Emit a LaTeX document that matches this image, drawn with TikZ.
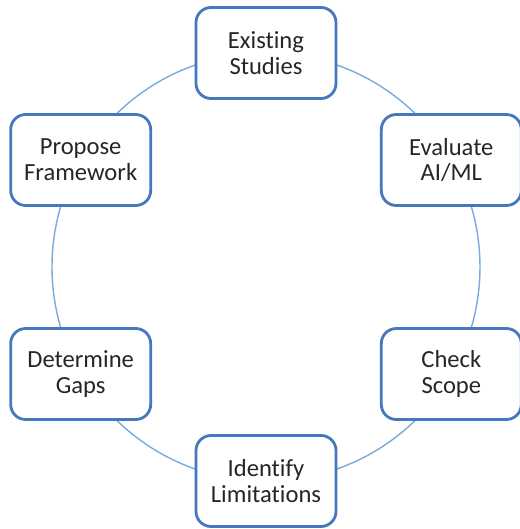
\documentclass[tikz,border=0pt]{standalone}
\usepackage{fontspec}
\setmainfont{Carlito}[Ligatures={NoCommon}]
\usepackage{tikz}
\usetikzlibrary{positioning,calc}

\definecolor{boxblue}{RGB}{70,120,190}
\definecolor{ringblue}{RGB}{120,170,220}

\begin{document}
\begin{tikzpicture}[scale=1]
            \tikzstyle{stage}=[draw=boxblue, line width=1.6pt, fill=white, rounded corners=0.3cm,
                minimum width=2.8cm, minimum height=1.82cm, align=center, font=\fontsize{14}{14.6}\selectfont, text=black!85]
            \useasboundingbox (0,0) rectangle (10.4,10.58);
            \coordinate (c) at (5.32,5.24);
            \draw [ringblue, line width=0.8pt] (c) circle (4.28);
            \node [stage] (exist) at ($(c)+(90:4.28)$) {Existing\\Studies};
            \node [stage] (eval) at ($(c)+(30:4.28)$) {Evaluate\\AI/ML};
            \node [stage] (scope) at ($(c)+(-30:4.28)$) {Check\\Scope};
            \node [stage] (limit) at ($(c)+(-90:4.28)$) {Identify\\Limitations};
            \node [stage] (gaps) at ($(c)+(-150:4.28)$) {Determine\\Gaps};
            \node [stage] (frame) at ($(c)+(150:4.28)$) {Propose\\Framework};
\end{tikzpicture}
\end{document}
